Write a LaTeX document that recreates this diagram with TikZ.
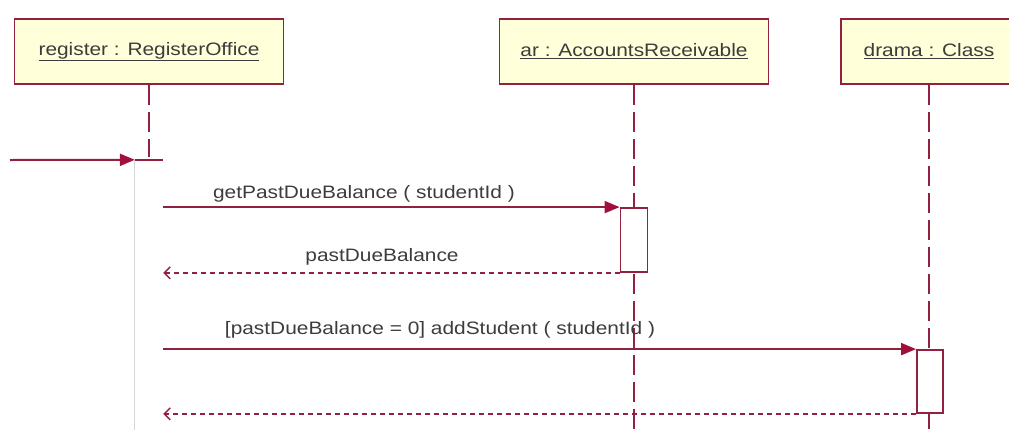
\documentclass[tikz,border=0pt]{standalone}
\usepackage{graphicx}
\usepackage{fontspec}
\setmainfont{Liberation Sans}
\usetikzlibrary{arrows.meta}
\definecolor{umlline}{HTML}{93203F}
\definecolor{umlhead}{HTML}{A0103A}
\definecolor{umlfill}{HTML}{FFFFDA}
\definecolor{umltext}{HTML}{3C3C3C}
\definecolor{umlgray}{HTML}{D6D6D6}
\newcommand{\widetext}[1]{\scalebox{1.16}[1]{#1}}
\tikzset{
  objbox/.style={draw=umlline, fill=umlfill, line width=1.8pt, minimum height=65pt,
    inner sep=0pt, text=umltext, font=\fontsize{18pt}{20pt}\selectfont},
  lifeline/.style={draw=umlline, line width=1.6pt, dash pattern=on 20pt off 7pt},
  actbox/.style={draw=umlline, fill=white, line width=1.8pt, inner sep=0pt},
  call/.style={draw=umlline, line width=2pt,
    -{Triangle[length=15pt,width=12pt,color=umlhead,fill=umlhead]}},
  reply/.style={draw=umlline, line width=1.5pt, dash pattern=on 5pt off 4pt,
    -{Straight Barb[length=6pt,width=12pt]}},
  msglabel/.style={text=umltext, anchor=base, inner sep=0pt,
    font=\fontsize{18pt}{20pt}\selectfont},
}
\begin{document}
\begin{tikzpicture}[x=1pt,y=-1pt]
\useasboundingbox (0,0) rectangle (1009,429);
\clip (0,0) rectangle (1009,429);

% object heads
\node[objbox, minimum width=269pt] (reg) at (149,51.5) {\widetext{\underline{register : RegisterOffice}}};
\node[objbox, minimum width=269pt] (ar) at (634,51.5) {\widetext{\underline{ar : AccountsReceivable}}};
\node[objbox, minimum width=176pt] (drama) at (929,51.5) {\widetext{\underline{drama : Class}}};

% lifelines
\coordinate (regEnd) at (149,157);
\coordinate (bottom) at (0,432);
\draw[lifeline] (reg.south) -- (regEnd);
\draw[lifeline] (ar.south) -- (ar.south |- bottom);
\draw[lifeline] (drama.south) -- (drama.south |- bottom);

% activation bars
\node[inner sep=0pt, minimum width=28pt, minimum height=270pt] (actReg) at (149,295) {};
\draw[umlgray, line width=1.2pt] (actReg.north west) -- (actReg.south west);
\draw[umlline, line width=1.8pt] (actReg.north west) -- (actReg.north east);
\node[actbox, minimum width=27pt, minimum height=64pt] (actAR) at (634,240) {};
\node[actbox, minimum width=26pt, minimum height=63pt] (actDr) at (930,381.5) {};

% messages
\coordinate (found) at (10,160);
\draw[call] (found) -- (actReg.north west);
\draw[call] (actReg.east |- actAR.north) -- (actAR.north west);
\draw[reply] (actAR.south west) -- (actReg.east |- actAR.south);
\draw[call] (actReg.east |- actDr.north) -- (actDr.north west);
\draw[reply] (actDr.south west) -- (actReg.east |- actDr.south);

% message labels
\node[msglabel] (m1) at (364,198) {\widetext{getPastDueBalance ( studentId )}};
\node[msglabel] (r1) at (382,261) {\widetext{pastDueBalance}};
\node[msglabel] (m2) at (440,334) {\widetext{[pastDueBalance = 0] addStudent ( studentId )}};
\end{tikzpicture}
\end{document}
